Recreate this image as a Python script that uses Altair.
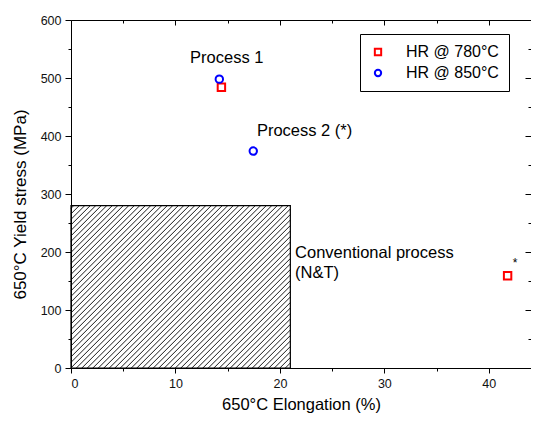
import altair as alt
import pandas as pd
import numpy as np

# ---- data ----
series = ["HR @ 780°C", "HR @ 850°C"]
x_780 = [14.4, 41.8]
y_780 = [484, 159]
x_850 = [14.2, 17.45]
y_850 = [498, 374]

box_x = [0, 21]          # conventional process region (elongation)
box_y = [0, 280]         # conventional process region (yield stress)

labels = ["Process 1", "Process 2 (*)", "Conventional process", "(N&T)", "*"]
label_x = [11.4, 17.8, 21.45, 21.45, 42.3]
label_y = [534, 409, 198, 164, 181]
label_size = [16.5, 16.5, 16.5, 16.5, 12]

x_ticks = [0, 5, 10, 15, 20, 25, 30, 35, 40]
y_ticks = [0, 50, 100, 150, 200, 250, 300, 350, 400, 450, 500, 550, 600]

# ---- layout / style ----
W, H = 460, 348
XMAX, YMAX = 44.04, 600
FONT = "Liberation Sans"
HATCH_SPACING_PX = 5.5

pts = pd.DataFrame({
    "x": x_780 + x_850,
    "y": y_780 + y_850,
    "s": [series[0]] * len(x_780) + [series[1]] * len(x_850),
})
box = pd.DataFrame({"x": [box_x[0]], "x2": [box_x[1]], "y": [box_y[0]], "y2": [box_y[1]]})
txt = pd.DataFrame({"t": labels, "x": label_x, "y": label_y, "fs": label_size})

# hatch lines (45 degrees on screen) clipped to the box
pxx = W / XMAX
pxy = H / YMAX
bw = (box_x[1] - box_x[0]) * pxx
bh = (box_y[1] - box_y[0]) * pxy
rows = []
c = -bh + HATCH_SPACING_PX / 2
while c < bw:
    u0 = max(0.0, c)
    v0 = u0 - c
    u1 = min(bw, bh + c)
    v1 = u1 - c
    rows.append({
        "x": box_x[0] + u0 / pxx, "y": box_y[0] + v0 / pxy,
        "x2": box_x[0] + u1 / pxx, "y2": box_y[0] + v1 / pxy,
    })
    c += HATCH_SPACING_PX
hatch = pd.DataFrame(rows)

xs = alt.Scale(domain=[0, XMAX], nice=False, zero=False)
ys = alt.Scale(domain=[0, YMAX], nice=False, zero=False)

xtick = {"condition": {"test": "datum.value % 10 === 0", "value": 5}, "value": 3}
ytick = {"condition": {"test": "datum.value % 100 === 0", "value": 6}, "value": 3}

axis_common = dict(grid=False, domainColor="black", tickColor="black", domainWidth=1,
                   tickWidth=1, labelFont=FONT, labelColor="#111", labelFontSize=12.5,
                   titleFont=FONT, titleFontWeight="normal", titleColor="black")

x_main = alt.Axis(values=x_ticks, tickSize=xtick, labelExpr="datum.value % 10 === 0 ? datum.label : ''",
                  title="650°C Elongation (%)", titleFontSize=16.5, labelPadding=4, titlePadding=7,
                  orient="bottom", **axis_common)
y_main = alt.Axis(values=y_ticks, tickSize=ytick, labelExpr="datum.value % 100 === 0 ? datum.label : ''",
                  title="650°C Yield stress (MPa)", titleFontSize=17, labelPadding=4, titlePadding=11,
                  titleY=184, orient="left", **axis_common)
x_top = alt.Axis(values=x_ticks, tickSize=xtick, labels=False, title=None, orient="bottom",
                 offset=-H, grid=False, domainColor="black", tickColor="black")
y_right = alt.Axis(values=y_ticks, tickSize=ytick, labels=False, title=None, orient="left",
                   offset=-W, grid=False, domain=False, tickColor="black")

hatch_layer = alt.Chart(hatch).mark_rule(color="black", strokeWidth=0.9).encode(
    x=alt.X("x:Q", scale=xs, axis=None), y=alt.Y("y:Q", scale=ys, axis=None),
    x2="x2:Q", y2="y2:Q")

box_layer = alt.Chart(box).mark_rect(fill=None, stroke="black", strokeWidth=1.2).encode(
    x=alt.X("x:Q", scale=xs, axis=x_main), x2="x2:Q",
    y=alt.Y("y:Q", scale=ys, axis=y_main), y2="y2:Q")

frame_layer = alt.Chart(box).mark_rect(opacity=0).encode(
    x=alt.X("x:Q", scale=xs, axis=x_top), x2="x2:Q",
    y=alt.Y("y:Q", scale=ys, axis=y_right), y2="y2:Q")

text_layer = alt.Chart(txt).mark_text(align="left", baseline="middle", font=FONT, color="black").encode(
    x=alt.X("x:Q", scale=xs, axis=None), y=alt.Y("y:Q", scale=ys, axis=None),
    text="t:N", size=alt.Size("fs:Q", scale=None, legend=None))

point_layer = alt.Chart(pts).mark_point(filled=False, strokeWidth=2, size=55, opacity=1).encode(
    x=alt.X("x:Q", scale=xs, axis=None), y=alt.Y("y:Q", scale=ys, axis=None),
    color=alt.Color("s:N", scale=alt.Scale(domain=series, range=["#ff0000", "#0000ff"]), title=None),
    shape=alt.Shape("s:N", scale=alt.Scale(domain=series, range=["square", "circle"]), title=None))

chart = alt.layer(hatch_layer, box_layer, frame_layer, text_layer, point_layer).resolve_axis(
    x="independent", y="independent"
).properties(
    width=W, height=H,
    padding={"left": 63, "top": 12, "right": 0, "bottom": 47},
    autosize=alt.AutoSizeParams(type="none"),
).configure_view(stroke=None).configure_legend(
    orient="none", legendX=289, legendY=14, strokeColor="black", fillColor="white",
    padding=10, symbolSize=40, symbolStrokeWidth=2, labelFontSize=16, labelFont=FONT,
    labelColor="black", rowPadding=5, labelOffset=20,
)

chart.save("out.html", embed_options={"renderer": "svg", "actions": False})
